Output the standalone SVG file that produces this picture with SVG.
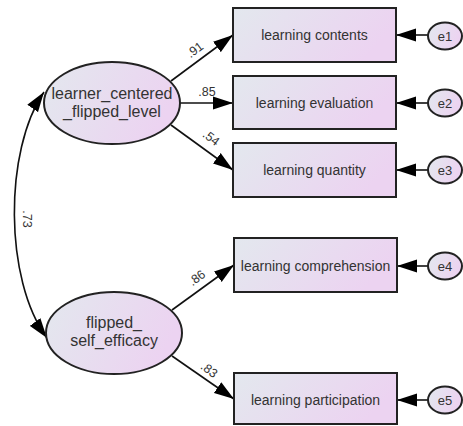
<svg xmlns="http://www.w3.org/2000/svg" width="463" height="426" viewBox="0 0 463 426">
<defs>
<linearGradient id="g" x1="0" y1="0" x2="1" y2="0.3">
<stop offset="0" stop-color="#e3e8ee"/>
<stop offset="1" stop-color="#ecd3f1"/>
</linearGradient>
<marker id="ah" markerUnits="userSpaceOnUse" markerWidth="22" markerHeight="14" refX="20" refY="7" orient="auto-start-reverse" viewBox="0 0 22 14">
<path d="M0,0.5 L20,7 L0,13.5 Z" fill="#000"/>
</marker>
<style>
.n{fill:url(#g);stroke:#222;stroke-width:2}
.t{font-family:"Liberation Sans",Arial,sans-serif;fill:#333;text-anchor:middle}
.bt{font-size:14px}
.lt{font-size:16px}
.et{font-size:13px}
.el{font-family:"Liberation Sans",Arial,sans-serif;fill:#333;font-size:12.5px;text-anchor:middle}
.c{fill:none;stroke:#111;stroke-width:1.6}
</style>
</defs>
<g id="connectors">
<path class="c" d="M44,92 C4,150 4,280 47,338" marker-start="url(#ah)" marker-end="url(#ah)"/>
<line class="c" x1="171" y1="81" x2="233" y2="35" marker-end="url(#ah)"/>
<line class="c" x1="180" y1="103" x2="233" y2="103" marker-end="url(#ah)"/>
<line class="c" x1="171" y1="125" x2="233" y2="170" marker-end="url(#ah)"/>
<line class="c" x1="172" y1="310" x2="234" y2="265" marker-end="url(#ah)"/>
<line class="c" x1="172" y1="356" x2="234" y2="399" marker-end="url(#ah)"/>
<line class="c" x1="428" y1="35" x2="396" y2="35" marker-end="url(#ah)"/>
<line class="c" x1="428" y1="103" x2="396" y2="103" marker-end="url(#ah)"/>
<line class="c" x1="428" y1="170" x2="396" y2="170" marker-end="url(#ah)"/>
<line class="c" x1="428" y1="266" x2="397" y2="266" marker-end="url(#ah)"/>
<line class="c" x1="428" y1="400" x2="397" y2="400" marker-end="url(#ah)"/>
<text class="el" transform="translate(27,219) rotate(90)" dy="4">.73</text>
<text class="el" transform="translate(195,50) rotate(-37)" dy="4">.91</text>
<text class="el" x="207" y="96">.85</text>
<text class="el" transform="translate(211,138) rotate(37)" dy="4">.54</text>
<text class="el" transform="translate(197,278) rotate(-37)" dy="4">.86</text>
<text class="el" transform="translate(209,370) rotate(37)" dy="4">.83</text>
</g>
<g id="learner_centered_flipped_level">
<ellipse class="n" cx="112" cy="103" rx="68" ry="41"/>
<text class="t lt" x="112" y="99">learner_centered</text>
<text class="t lt" x="112" y="117">_flipped_level</text>
</g>
<g id="flipped_self_efficacy">
<ellipse class="n" cx="114" cy="333" rx="68" ry="41"/>
<text class="t lt" x="114" y="328">flipped_</text>
<text class="t lt" x="114" y="346">self_efficacy</text>
</g>
<g id="learning_contents">
<rect class="n" x="233" y="8" width="163" height="54"/>
<text class="t bt" x="314.5" y="40">learning contents</text>
</g>
<g id="learning_evaluation">
<rect class="n" x="233" y="76" width="163" height="53"/>
<text class="t bt" x="314.5" y="108">learning evaluation</text>
</g>
<g id="learning_quantity">
<rect class="n" x="233" y="143" width="163" height="54"/>
<text class="t bt" x="314.5" y="175">learning quantity</text>
</g>
<g id="learning_comprehension">
<rect class="n" x="234" y="238" width="163" height="54"/>
<text class="t bt" x="315.5" y="271">learning comprehension</text>
</g>
<g id="learning_participation">
<rect class="n" x="234" y="373" width="163" height="51"/>
<text class="t bt" x="315.5" y="405">learning participation</text>
</g>
<g id="e1"><ellipse class="n" cx="445" cy="36" rx="17" ry="13.5"/><text class="t et" x="445" y="40.5">e1</text></g>
<g id="e2"><ellipse class="n" cx="445" cy="103" rx="17" ry="13.5"/><text class="t et" x="445" y="107.5">e2</text></g>
<g id="e3"><ellipse class="n" cx="445" cy="170" rx="17" ry="13.5"/><text class="t et" x="445" y="174.5">e3</text></g>
<g id="e4"><ellipse class="n" cx="445" cy="266" rx="17" ry="13.5"/><text class="t et" x="445" y="270.5">e4</text></g>
<g id="e5"><ellipse class="n" cx="445" cy="400" rx="17" ry="13.5"/><text class="t et" x="445" y="404.5">e5</text></g>
</svg>
